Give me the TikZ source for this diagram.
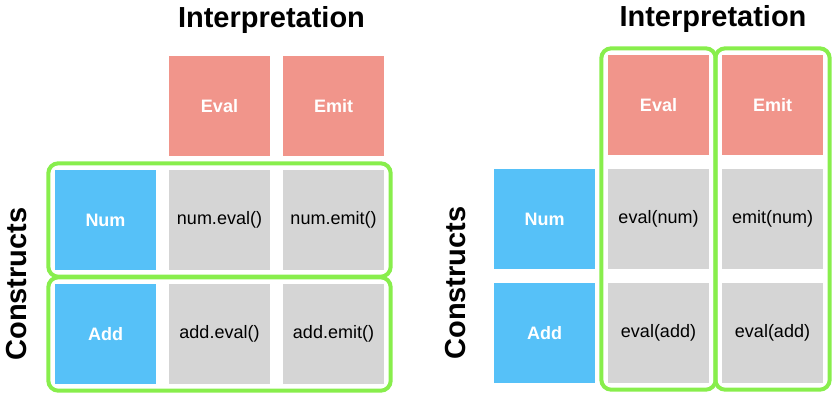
\documentclass[tikz,border=0pt]{standalone}
\usepackage{fontspec}
\setmainfont{Liberation Sans}
\usetikzlibrary{fit}

\definecolor{hdred}{HTML}{F1958B}
\definecolor{csblue}{HTML}{56C1F8}
\definecolor{cellgrey}{HTML}{D5D5D5}
\definecolor{grpgreen}{HTML}{88EE4C}

\tikzset{
  box/.style={minimum width=101pt, minimum height=100pt, inner sep=0pt,
    font=\fontsize{18}{20}\selectfont},
  header/.style={box, fill=hdred, text=white, font=\fontsize{18}{20}\selectfont\bfseries},
  construct/.style={box, fill=csblue, text=white, font=\fontsize{18}{20}\selectfont\bfseries},
  cell/.style={box, fill=cellgrey, text=black},
  title/.style={anchor=base, font=\fontsize{29}{32}\selectfont\bfseries},
  group/.style={draw=grpgreen, line width=4pt, rounded corners=10pt, inner sep=6.5pt}
}

\begin{document}
\begin{tikzpicture}[x=1pt,y=-1pt]
        \useasboundingbox (0,0) rectangle (840,400);

        % left: methods on each construct
        \node[title] (interpL) at (271.5,27.5) {Interpretation};
        \node[title, rotate=90] (constrL) at (27,284) {Constructs};

        \node[header] (evalL) at (219.5,106) {Eval};
        \node[header] (emitL) at (333.5,106) {Emit};

        \node[construct] (numL) at (105.5,220) {Num};
        \node[construct] (addL) at (105.5,334) {Add};

        \node[cell] (numevalL) at (219.5,220) {num.eval()};
        \node[cell] (numemitL) at (333.5,220) {num.emit()};
        \node[cell] (addevalL) at (219.5,334) {add.eval()};
        \node[cell] (addemitL) at (333.5,334) {add.emit()};

        \node[group, fit=(numL) (numemitL)] (rowNum) {};
        \node[group, fit=(addL) (addemitL)] (rowAdd) {};

        % right: functions on each interpretation
        \node[title] (interpR) at (713,26.5) {Interpretation};
        \node[title, rotate=90] (constrR) at (465,283) {Constructs};

        \node[header] (evalR) at (658.5,105) {Eval};
        \node[header] (emitR) at (772.5,105) {Emit};

        \node[construct] (numR) at (544.5,219) {Num};
        \node[construct] (addR) at (544.5,333) {Add};

        \node[cell] (numevalR) at (658.5,219) {eval(num)};
        \node[cell] (numemitR) at (772.5,219) {emit(num)};
        \node[cell] (addevalR) at (658.5,333) {eval(add)};
        \node[cell] (addemitR) at (772.5,333) {eval(add)};

        \node[group, fit=(evalR) (addevalR)] (colEval) {};
        \node[group, fit=(emitR) (addemitR)] (colEmit) {};

    \end{tikzpicture}
\end{document}
